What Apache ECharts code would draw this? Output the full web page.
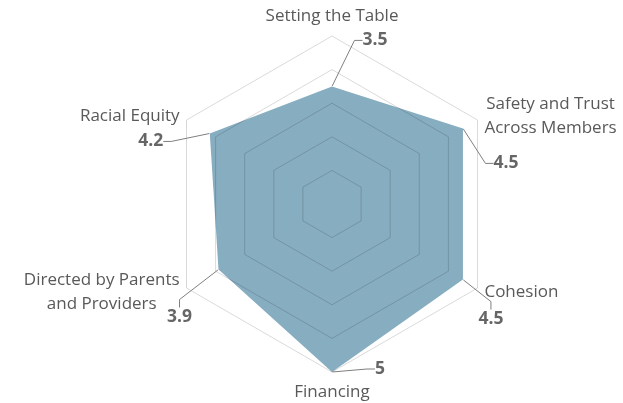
<!DOCTYPE html>
<html>
<head>
<meta charset="utf-8">
<script src="https://cdn.jsdelivr.net/npm/echarts@6/dist/echarts.min.js"></script>
<style>html,body{margin:0;padding:0;background:#fff}#c{width:623px;height:403px}</style>
</head>
<body>
<div id="c"></div>
<script>
// Data
const categories = ['Setting the Table', 'Racial Equity', 'Directed by Parents\nand Providers', 'Financing', 'Cohesion', 'Safety and Trust\nAcross Members'];
const values = [3.5, 4.2, 3.9, 5, 4.5, 4.5];
const scaleMax = 5;

// Layout config for value labels (offset from the data point)
const labelOffsets = [[43, -46], [-59, 8], [-39, 47], [48, -3], [28, 39], [43, 35]];

const center = [332, 204];
const radius = 168;
const font = '"Open Sans", sans-serif';
const nameSize = 17;

const chart = echarts.init(document.getElementById('c'));
const step = 360 / categories.length;
chart.setOption({
  animation: false,
  radar: {
    center: center,
    radius: radius,
    startAngle: 90,
    splitNumber: 5,
    shape: 'polygon',
    z: 5,
    indicator: categories.map(n => ({ name: n, min: 0, max: scaleMax })),
    axisName: {
      color: '#595959', fontSize: nameSize, fontFamily: font, lineHeight: 24,
      formatter: (name) => name.split('\n').map(s => '{n|' + s + '}').join('\n'),
      rich: {
        n: { color: '#595959', fontSize: nameSize, fontFamily: font, lineHeight: 24, align: 'center' }
      }
    },
    nameGap: 8,
    axisLine: { show: false },
    axisTick: { show: false },
    axisLabel: { show: false },
    splitArea: { show: false },
    splitLine: { lineStyle: { color: 'rgba(0,0,0,0.15)', width: 1 } }
  },
  polar: { center: center, radius: radius },
  angleAxis: { type: 'value', min: 0, max: 360, startAngle: 90, clockwise: false, show: false },
  radiusAxis: { type: 'value', min: 0, max: scaleMax, show: false },
  series: [
    {
      type: 'radar',
      z: 2,
      symbol: 'none',
      lineStyle: { width: 0 },
      areaStyle: { color: '#87adc0', opacity: 1 },
      data: [{ value: values }]
    },
    {
      type: 'scatter',
      coordinateSystem: 'polar',
      z: 6,
      symbolSize: 1,
      itemStyle: { color: 'rgba(0,0,0,0)' },
      data: values.map((v, i) => [v, i * step]),
      label: {
        show: true,
        position: 'inside',
        formatter: p => String(p.value[0]),
        color: '#404040',
        fontWeight: 'bold',
        fontSize: 17.5,
        fontFamily: font
      },
      labelLine: { show: true, length2: 8, lineStyle: { color: '#7f7f7f', width: 1 } },
      labelLayout: p => ({ dx: labelOffsets[p.dataIndex][0], dy: labelOffsets[p.dataIndex][1] })
    }
  ]
});
</script>
</body>
</html>
